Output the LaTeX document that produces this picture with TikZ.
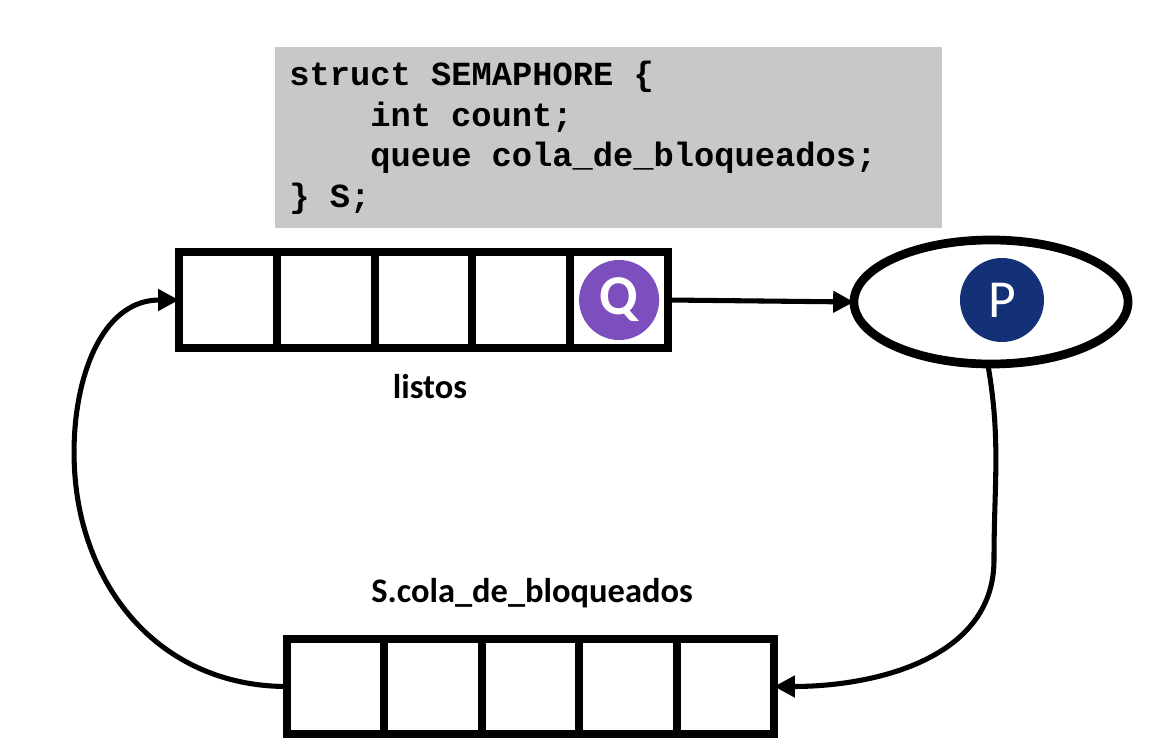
\documentclass[tikz,border=0pt]{standalone}
\usepackage{fontspec}
\setmainfont{Carlito}
\newfontfamily\codefont{Liberation Mono}
\usetikzlibrary{arrows.meta,shapes.geometric}
\definecolor{codegray}{RGB}{200,200,200}
\definecolor{qpurple}{RGB}{124,78,190}
\definecolor{pnavy}{RGB}{20,48,118}
\newcommand{\csp}{\hspace*{0.6em}}
\tikzset{
  cell/.style={draw=black,line width=5.7pt,fill=white,minimum width=2.445cm,minimum height=2.4cm,inner sep=0,outer sep=0},
  bcell/.style={draw=black,line width=5.7pt,fill=white,minimum width=2.435cm,minimum height=2.375cm,inner sep=0,outer sep=0},
  conn/.style={line width=3.6pt,-{Triangle[length=0.52cm,width=0.52cm]}},
  lbl/.style={font=\fontsize{24.5}{28}\selectfont\bfseries,inner sep=0},
  proc/.style={circle,minimum size=2cm,inner sep=0,text=white}
}
\begin{document}
\begin{tikzpicture}[x=0.025cm,y=-0.025cm]
\useasboundingbox (0,0) rectangle (1160,742);
% code box
\node[fill=codegray,anchor=north west,minimum width=16.675cm,minimum height=4.525cm,
      inner xsep=0.35cm,inner ysep=0,text width=15.975cm,align=left,
      font=\codefont\bfseries\fontsize{24}{29}\selectfont] (code) at (275,47)
  {struct\csp SEMAPHORE\csp\{\\
   \hspace*{2.4em}int\csp count;\\
   \hspace*{2.4em}queue\csp cola\_de\_bloqueados;\\
   \}\csp S;};
% top queue (listos)
\foreach \i/\x in {1/227.9,2/325.7,3/423.5,4/521.3,5/619.1}
  \node[cell] (t\i) at (\x,300) {};
\node[proc,fill=qpurple,font=\fontsize{40}{40}\selectfont\bfseries] (q) at (t5) {Q};
\node[lbl] (listos) at (430,387) {listos};
% ellipse with P
\node[ellipse,draw=black,line width=6.2pt,fill=white,minimum width=6.85cm,minimum height=3.1cm,inner sep=0,outer sep=0] (cpu) at (991,302) {};
\node[proc,fill=pnavy,minimum size=2.1cm,font=\fontsize{38}{38}\selectfont] (p) at (1002,300) {P};
% bottom queue
\foreach \i/\x in {1/335.7,2/433.1,3/530.5,4/627.9,5/725.3}
  \node[bcell] (b\i) at (\x,686.5) {};
\node[lbl] (blk) at (532,593) {S.cola\_de\_bloqueados};
% connectors
\draw[conn] (t5.east) -- (cpu.west);
\draw[conn] (cpu.-93) to[out=-80,in=90] (994,560) to[out=-90,in=0] (b5.east);
\draw[conn] (b1.west) to[out=180,in=-76] (82,520) to[out=104,in=180] (t1.west);
\end{tikzpicture}
\end{document}
